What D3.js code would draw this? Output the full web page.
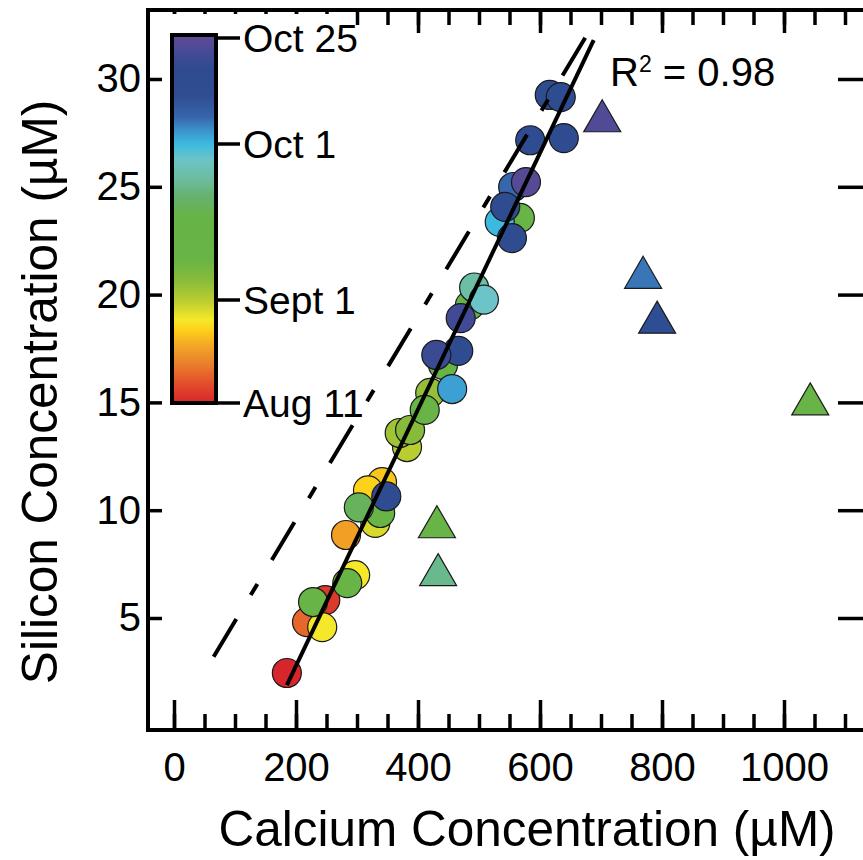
<!DOCTYPE html>
<html>
<head>
<meta charset="utf-8">
<script src="https://cdn.jsdelivr.net/npm/d3@7"></script>
<style>
  body { margin: 0; background: #fff; }
  svg { display: block; }
  text { font-family: "Liberation Sans", Arial, Helvetica, sans-serif; fill: #000; }
</style>
</head>
<body>
<div id="chart"></div>
<script>
// samples on the Ca–Si trend (circles): calcium, silicon, days after Aug 11
var circleCa  = [616, 634, 584, 639, 556, 577, 534, 567, 543, 554, 492, 508, 485, 470, 466, 430, 441, 456,
                 420, 411, 387, 370, 382, 341, 318, 348, 303, 338, 330, 282, 297, 284, 248, 228, 218, 243, 185];
var circleSi  = [29.26, 29.16, 27.16, 27.26, 24.99, 25.22, 23.37, 23.56, 24.07, 22.62, 20.33, 19.77, 19.5, 18.91,
                 17.39, 17.2, 16.74, 15.62, 15.44, 14.65, 13.72, 13.58, 12.93, 11.3, 10.92, 10.64, 10.13, 9.87,
                 9.41, 8.85, 6.99, 6.62, 5.83, 5.74, 4.81, 4.58, 2.45];
var circleDay = [65, 66, 65, 65, 57, 74, 51, 33, 64, 64, 45, 48, 35, 71, 64, 70, 32, 53,
                 24, 30, 25, 23, 21, 14, 15, 64, 39, 33, 19, 11, 17, 32, 2, 31, 6, 17, 0];

// samples off the trend (triangles)
var triCa  = [702, 769, 792, 1043, 431, 433];
var triSi  = [28.04, 20.78, 18.7, 14.91, 9.21, 6.99];
var triDay = [73, 56, 62, 32, 32, 43];

// regression fit and reference line end points
var fitCa = [185, 688];
var fitSi = [1.89, 31.8];
var refCa = [65, 677];
var refSi = [3.2, 32.05];

var xTickLabels = [0, 200, 400, 600, 800, 1000];
var yTickLabels = [5, 10, 15, 20, 25, 30];

// date colour bar
var barDays   = [0, 21, 51, 75];
var barLabels = ["Aug 11", "Sept 1", "Oct 1", "Oct 25"];
var colorDays   = [0, 3, 8, 12, 15, 17, 21, 25, 29, 37, 41, 44, 48, 51, 54, 57, 62, 68, 72, 75];
var colorValues = ["#d7262b", "#e0432b", "#ea7f2c", "#f4aa24", "#fdd219", "#f5e82a", "#b9cc30", "#86bb3c",
                   "#68b446", "#67b446", "#66b26f", "#6cbc9c", "#6cc4c8", "#3cb9e0", "#3c94cc", "#3766ac",
                   "#2f4d92", "#2e4b8f", "#474b97", "#5e4a95"];

var svgWidth = 863, svgHeight = 860;
var frame = { left: 148, top: 10, right: 868, bottom: 730 };

var svg = d3.select("#chart")
  .append("svg")
  .attr("width", svgWidth)
  .attr("height", svgHeight);

var x = d3.scaleLinear().domain([0, 1000]).range([174, 784]);
var y = d3.scaleLinear().domain([5, 30]).range([618, 79]);
var barY = d3.scaleLinear().domain(barDays).range([403, 300, 144, 38]);
var color = d3.scaleLinear().domain(colorDays).range(colorValues);

var allTicks = d3.range(0, 1101, 50);

function tickAxis(g, axis, w) {
  g.call(axis);
  g.select(".domain").remove();
  g.selectAll("line").attr("stroke", "#000").attr("stroke-width", w);
}

// bottom ticks (inward)
tickAxis(svg.append("g").attr("transform", `translate(0, ${frame.bottom})`),
  d3.axisTop(x).tickValues(allTicks).tickSize(16).tickFormat(""), 3.5);
tickAxis(svg.append("g").attr("transform", `translate(0, ${frame.bottom})`),
  d3.axisTop(x).tickValues(xTickLabels).tickSize(30).tickFormat(""), 3.5);

// top ticks (inward)
tickAxis(svg.append("g").attr("transform", `translate(0, ${frame.top})`),
  d3.axisBottom(x).tickValues(allTicks).tickSize(15).tickFormat(""), 3.5);
tickAxis(svg.append("g").attr("transform", `translate(0, ${frame.top})`),
  d3.axisBottom(x).tickValues(xTickLabels).tickSize(23).tickFormat(""), 3.5);

// left and right ticks
tickAxis(svg.append("g").attr("transform", `translate(${frame.left}, 0)`),
  d3.axisRight(y).tickValues(yTickLabels).tickSize(14).tickFormat(""), 3.5);
tickAxis(svg.append("g").attr("transform", `translate(${frame.right}, 0)`),
  d3.axisLeft(y).tickValues(yTickLabels).tickSize(30).tickFormat(""), 3.5);

// tick labels
var xLab = svg.append("g").attr("transform", `translate(0, ${frame.bottom})`)
  .call(d3.axisBottom(x).tickValues(xTickLabels).tickSize(0).tickPadding(23).tickFormat(d3.format("d")));
xLab.select(".domain").remove();
xLab.selectAll("text").attr("font-size", 40).attr("font-family", null);

var yLab = svg.append("g").attr("transform", `translate(${frame.left}, 0)`)
  .call(d3.axisLeft(y).tickValues(yTickLabels).tickSize(0).tickPadding(7));
yLab.select(".domain").remove();
yLab.selectAll("text").attr("font-size", 40).attr("font-family", null);

// frame
svg.append("rect")
  .attr("x", frame.left).attr("y", frame.top)
  .attr("width", frame.right - frame.left).attr("height", frame.bottom - frame.top)
  .attr("fill", "none").attr("stroke", "#000").attr("stroke-width", 4);

// axis titles
svg.append("text")
  .attr("x", 527).attr("y", 846)
  .attr("text-anchor", "middle").attr("font-size", 49.5)
  .text("Calcium Concentration (µM)");

svg.append("text")
  .attr("transform", "translate(57, 392) rotate(-90)")
  .attr("text-anchor", "middle").attr("font-size", 49.5)
  .text("Silicon Concentration (µM)");

// colour bar legend
svg.append("rect")
  .attr("x", 163).attr("y", 14).attr("width", 182).attr("height", 405)
  .attr("fill", "#fff");

var grad = svg.append("defs").append("linearGradient")
  .attr("id", "dateGradient")
  .attr("gradientUnits", "userSpaceOnUse")
  .attr("x1", 0).attr("x2", 0)
  .attr("y1", barY(0)).attr("y2", barY(75));

grad.selectAll("stop")
  .data(colorDays)
  .enter()
  .append("stop")
  .attr("offset", d => (barY(d) - barY(0)) / (barY(75) - barY(0)))
  .attr("stop-color", d => color(d));

svg.append("rect")
  .attr("x", 172).attr("y", barY(75) - 3)
  .attr("width", 44).attr("height", barY(0) - barY(75) + 3)
  .attr("fill", "url(#dateGradient)")
  .attr("stroke", "#000").attr("stroke-width", 4);

var barTicks = svg.append("g").selectAll("g")
  .data(barDays)
  .enter()
  .append("g")
  .attr("transform", d => `translate(218, ${barY(d)})`);

barTicks.append("line")
  .attr("x1", 0).attr("x2", 22)
  .attr("stroke", "#000").attr("stroke-width", 3.5);

barTicks.append("text")
  .attr("x", 25).attr("dy", "0.35em")
  .attr("font-size", 39)
  .text((d, i) => barLabels[i]);

// circles, later dates drawn on top
var circleData = circleCa.map((c, i) => ({ ca: c, si: circleSi[i], day: circleDay[i] }));
circleData = d3.sort(circleData, d => d.day);

svg.append("g").selectAll("circle")
  .data(circleData)
  .enter()
  .append("circle")
  .attr("cx", d => x(d.ca))
  .attr("cy", d => y(d.si))
  .attr("r", 14.5)
  .attr("fill", d => color(d.day))
  .attr("stroke", "#1a1a1a")
  .attr("stroke-width", 1.2);

// triangles
var triData = triCa.map((c, i) => ({ ca: c, si: triSi[i], day: triDay[i] }));
var triPath = d3.line()([[0, -21.5], [18.5, 10.5], [-18.5, 10.5]]) + "Z";

svg.append("g").selectAll("path")
  .data(triData)
  .enter()
  .append("path")
  .attr("d", triPath)
  .attr("transform", d => `translate(${x(d.ca)}, ${y(d.si)})`)
  .attr("fill", d => color(d.day))
  .attr("stroke", "#1a1a1a")
  .attr("stroke-width", 1.2);

// lines
var line = d3.line().x(d => x(d[0])).y(d => y(d[1]));

svg.append("path")
  .attr("d", line(refCa.map((c, i) => [c, refSi[i]])))
  .attr("fill", "none").attr("stroke", "#000").attr("stroke-width", 4)
  .attr("stroke-dasharray", "44,28,13,28");

svg.append("path")
  .attr("d", line(fitCa.map((c, i) => [c, fitSi[i]])))
  .attr("fill", "none").attr("stroke", "#000").attr("stroke-width", 4);

// fit statistic
var r2 = svg.append("text")
  .attr("x", 610).attr("y", 86)
  .attr("font-size", 40);
r2.append("tspan").text("R");
r2.append("tspan").attr("font-size", 23).attr("dy", -14).text("2");
r2.append("tspan").attr("dy", 14).text(" = 0.98");
</script>
</body>
</html>
